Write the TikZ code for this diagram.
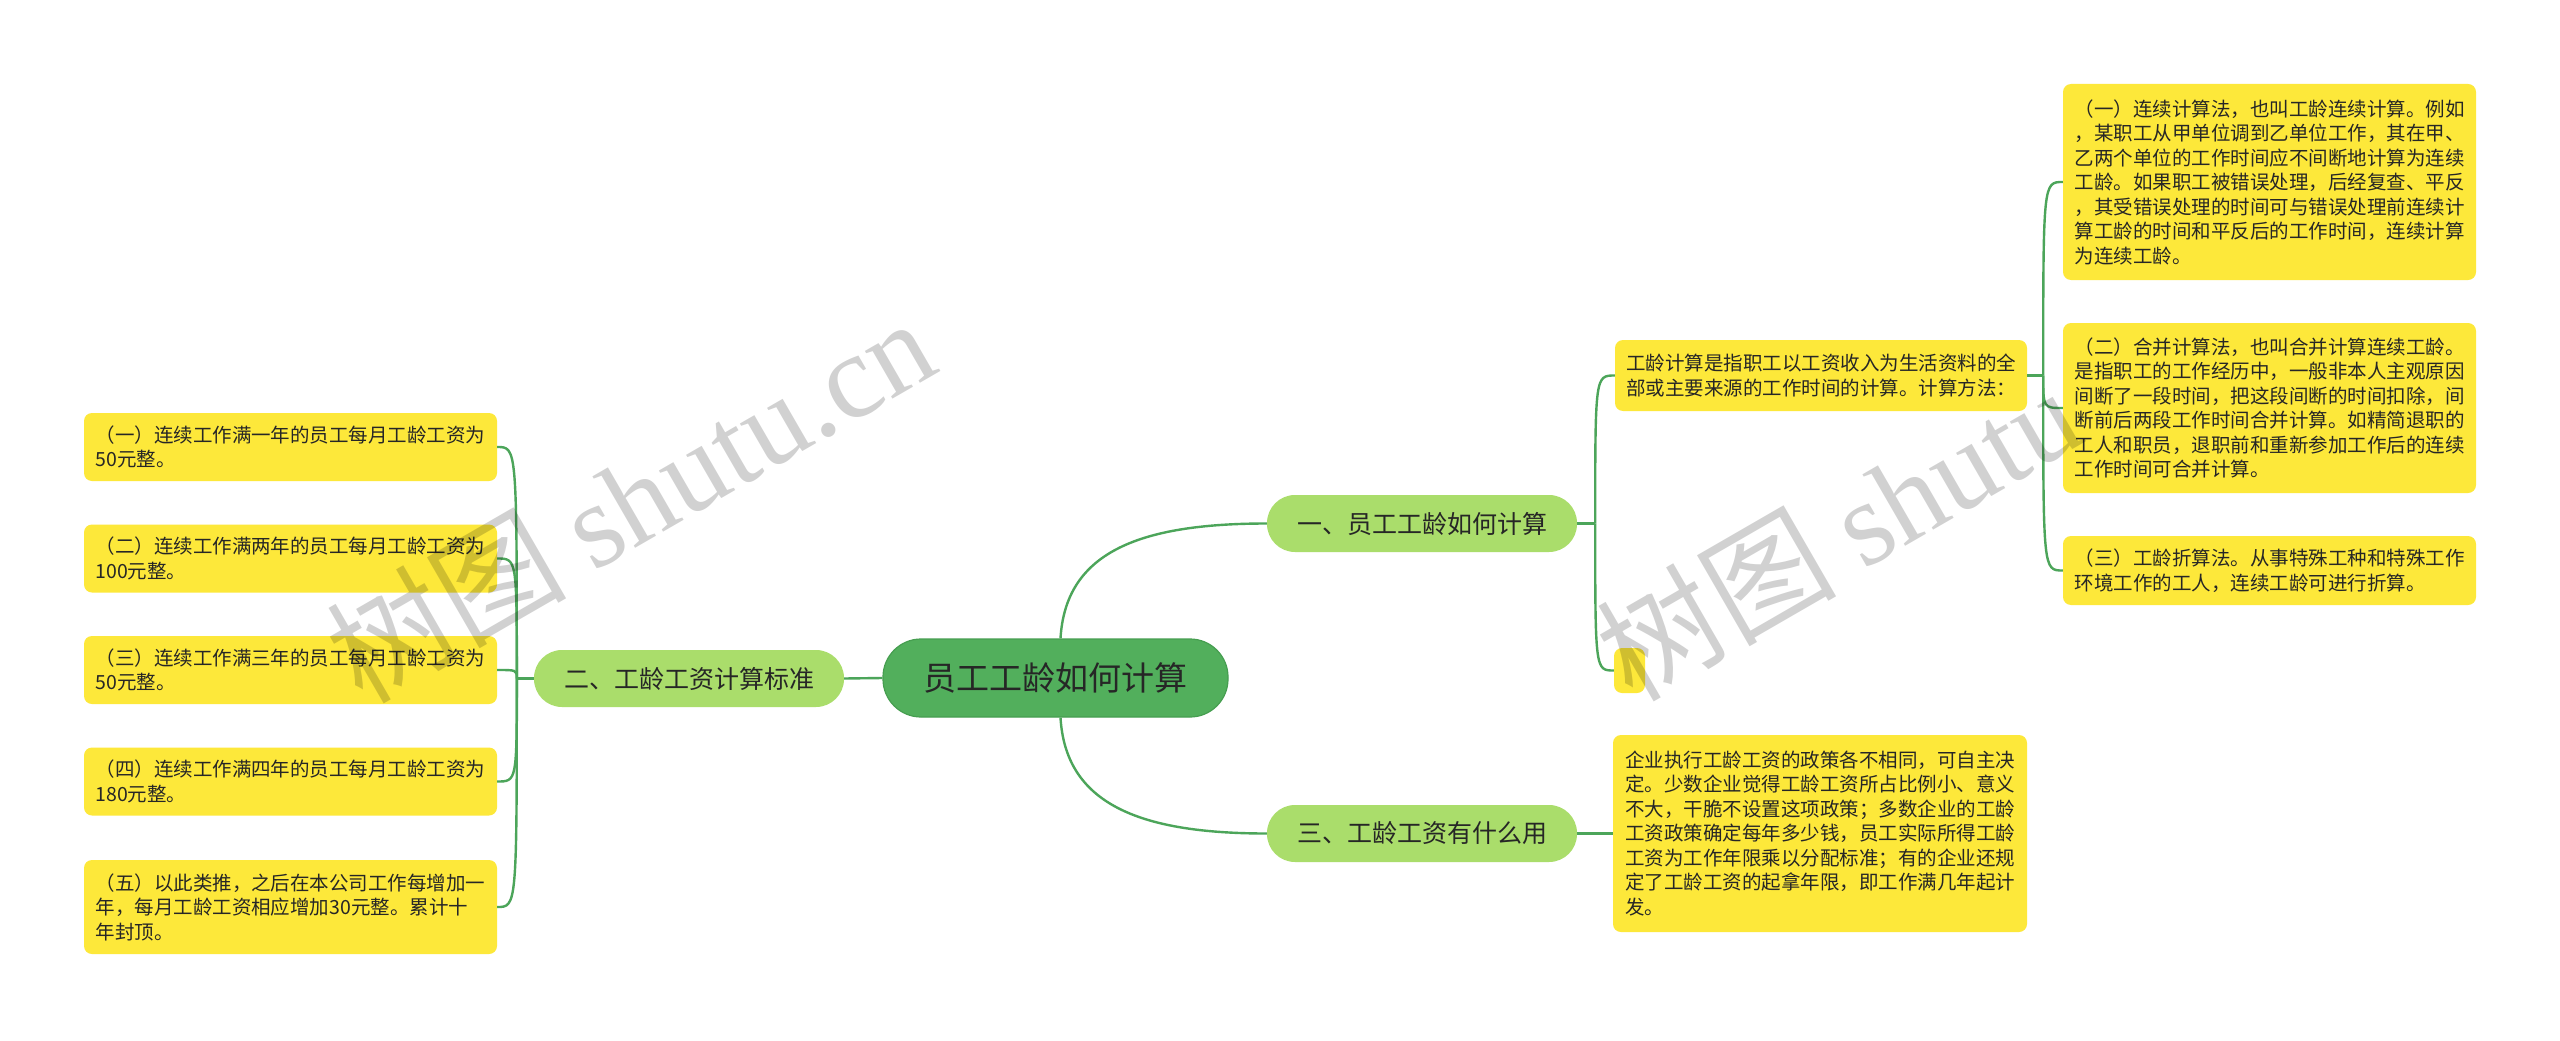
\documentclass[tikz,border=0pt]{standalone}
\usepackage{fontspec}
\setmainfont{Noto Sans CJK SC}
\newfontfamily\wmserif{Liberation Serif}
\newfontfamily\wmcjk{Noto Sans CJK SC}
\definecolor{edgegreen}{HTML}{4CA55A}
\definecolor{rootgreen}{HTML}{52AF5C}
\definecolor{rootborder}{HTML}{469E50}
\definecolor{topicgreen}{HTML}{AADD6B}
\definecolor{leafyellow}{HTML}{FDE83A}
\definecolor{txt}{HTML}{262626}
\tikzset{
  edge/.style={draw=edgegreen, line width=2.4pt},
  rootbox/.style={fill=rootgreen, draw=rootborder, line width=1.2pt, rounded corners=38pt,
    minimum width=345pt, minimum height=78pt, inner sep=0pt,
    font=\fontsize{33}{40}\selectfont, text=txt},
  topic/.style={fill=topicgreen, rounded corners=28pt, minimum width=310pt,
    minimum height=57pt, inner sep=0pt, font=\fontsize{25}{30}\selectfont, text=txt},
  leaf/.style={fill=leafyellow, rounded corners=8pt, inner sep=0pt, align=left,
    font=\fontsize{19.5}{24.5}\selectfont, text=txt, minimum width=413pt},
  wm/.style={rotate=30, anchor=base west, inner sep=0pt, text=black, text opacity=0.18,
    font=\fontsize{120}{125}\selectfont},
}
\begin{document}
\begin{tikzpicture}[x=1pt, y=-1pt]
\fill[white] (0,0) rectangle (2560,1041);
\useasboundingbox (0,0) rectangle (2560,1041);

% main nodes
\node[rootbox] (root) at (1055.5,678) {员工工龄如何计算};
\node[topic] (n1) at (1422,523.5) {一、员工工龄如何计算};
\node[topic] (n2) at (689,678.5) {二、工龄工资计算标准};
\node[topic] (n3) at (1422,833.5) {三、工龄工资有什么用};

% right side leaves
\node[leaf, minimum width=412pt, minimum height=71pt] (ra) at (1821,375.5)
 {工龄计算是指职工以工资收入为生活资料的全\\部或主要来源的工作时间的计算。计算方法：};
\node[leaf, minimum width=31pt, minimum height=45pt] (re) at (1629.5,670.5) {};
\node[leaf, minimum height=196pt] (r1) at (2269.5,182)
 {（一）连续计算法，也叫工龄连续计算。例如\\，某职工从甲单位调到乙单位工作，其在甲、\\乙两个单位的工作时间应不间断地计算为连续\\工龄。如果职工被错误处理，后经复查、平反\\，其受错误处理的时间可与错误处理前连续计\\算工龄的时间和平反后的工作时间，连续计算\\为连续工龄。};
\node[leaf, minimum height=170pt] (r2) at (2269.5,408)
 {（二）合并计算法，也叫合并计算连续工龄。\\是指职工的工作经历中，一般非本人主观原因\\间断了一段时间，把这段间断的时间扣除，间\\断前后两段工作时间合并计算。如精简退职的\\工人和职员，退职前和重新参加工作后的连续\\工作时间可合并计算。};
\node[leaf, minimum height=69pt] (r3) at (2269.5,570.5)
 {（三）工龄折算法。从事特殊工种和特殊工作\\环境工作的工人，连续工龄可进行折算。};
\node[leaf, minimum width=414pt, minimum height=197pt] (rb) at (1820,833.5)
 {企业执行工龄工资的政策各不相同，可自主决\\定。少数企业觉得工龄工资所占比例小、意义\\不大，干脆不设置这项政策；多数企业的工龄\\工资政策确定每年多少钱，员工实际所得工龄\\工资为工作年限乘以分配标准；有的企业还规\\定了工龄工资的起拿年限，即工作满几年起计\\发。};

% left leaves
\node[leaf, minimum height=68pt] (l1) at (290.5,447)
 {（一）连续工作满一年的员工每月工龄工资为\\50元整。};
\node[leaf, minimum height=68pt] (l2) at (290.5,558.5)
 {（二）连续工作满两年的员工每月工龄工资为\\100元整。};
\node[leaf, minimum height=68pt] (l3) at (290.5,670)
 {（三）连续工作满三年的员工每月工龄工资为\\50元整。};
\node[leaf, minimum height=68pt] (l4) at (290.5,781.5)
 {（四）连续工作满四年的员工每月工龄工资为\\180元整。};
\node[leaf, minimum height=94pt] (l5) at (290.5,907)
 {（五）以此类推，之后在本公司工作每增加一\\年，每月工龄工资相应增加30元整。累计十\\年封顶。};

% connectors from root
\draw[edge] (root.west) -- (n2.east);
\draw[edge] ([xshift=5pt]root.north) .. controls +(5,-85) and +(-130,0) .. (n1.west);
\draw[edge] ([xshift=5pt]root.south) .. controls +(5,85) and +(-130,0) .. (n3.west);

% n1 children
\coordinate (j1) at ([xshift=18pt]n1.east);
\draw[edge] (n1.east) -- (j1);
\draw[edge] (j1) .. controls (j1 |- ra.west) .. (ra.west);
\draw[edge] (j1) .. controls (j1 |- re.west) .. (re.west);

% ra children
\coordinate (j3) at ([xshift=16pt]ra.east);
\draw[edge] (ra.east) -- (j3);
\draw[edge] (j3) .. controls (j3 |- r1.west) .. (r1.west);
\draw[edge] (j3) .. controls (j3 |- r2.west) .. (r2.west);
\draw[edge] (j3) .. controls (j3 |- r3.west) .. (r3.west);

% n3 child
\draw[edge] (n3.east) -- (rb.west);

% n2 children
\coordinate (j2) at ([xshift=-17pt]n2.west);
\draw[edge] (n2.west) -- (j2);
\foreach \c in {l1,l2,l3,l4,l5}
  \draw[edge] (j2) .. controls (j2 |- \c.east) .. (\c.east);

% watermarks
\node[wm] (wm1) at (362,706) {{\wmcjk 树图} {\wmserif shutu.cn}};
\node[wm] (wm2) at (1632,704) {{\wmcjk 树图} {\wmserif shutu}};
\end{tikzpicture}
\end{document}
